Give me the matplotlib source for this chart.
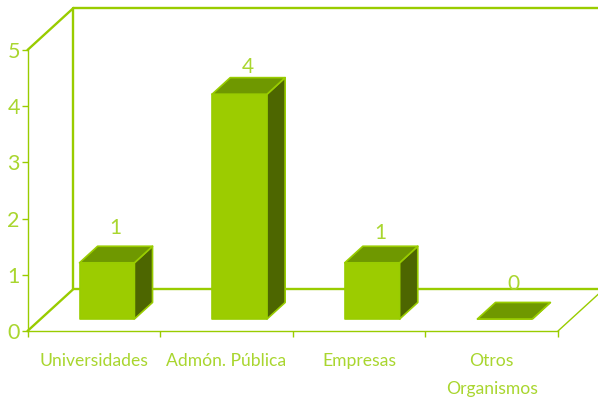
import matplotlib
matplotlib.use('Agg')
import matplotlib.pyplot as plt
from matplotlib.patches import Polygon

categories = ['Universidades', 'Admón. Pública', 'Empresas', 'Otros\nOrganismos']
values = [1, 4, 1, 0]
y_ticks = [0, 1, 2, 3, 4, 5]

line_col = '#99cc00'
text_col = '#a9d62f'
front_col = '#9ccc00'
top_col = '#6f9800'
side_col = '#4d6600'

W, H = 598, 408
plt.rcParams['font.family'] = ['Lato', 'DejaVu Sans']

fig = plt.figure(figsize=(W / 100, H / 100), dpi=100)
# plot box in pixels: x 27.5-558, y 50-331
ax = fig.add_axes([27.5 / W, (H - 331) / H, (558 - 27.5) / W, (331 - 50) / H])
ax.set_xlim(0, len(categories))
ax.set_ylim(0, 5)
ax.patch.set_alpha(0)

# oblique depth: z=1 is the back wall
dx = 46 / 132.7
dy = 42 / 56.2


def proj(x, y, z):
    return x + z * dx, y + z * dy


def wall_line(pts, lw=1.7):
    xs, ys = zip(*[proj(*p) for p in pts])
    ax.plot(xs, ys, color=line_col, lw=lw, clip_on=False, solid_capstyle='round', zorder=1)


n = len(categories)
wall_line([(0, 0, 0), (0, 0, 1), (n, 0, 1)])
wall_line([(0, 0, 1), (0, 5, 1), (n, 5, 1)])
wall_line([(0, 5, 0), (0, 5, 1)])
wall_line([(n, 0, 0), (n, 0, 1)], lw=1.0)

z0, z1 = 0.286, 0.68
half = 0.207
# the value labels do not sit at one fixed height in the original
label_gap = [6, 0.5, 2, 6]
for i, v in enumerate(values):
    c = i + 0.5
    l, r = c - half, c + half
    faces = [
        ([(l, 0, z0), (r, 0, z0), (r, v, z0), (l, v, z0)], front_col),
        ([(r, 0, z0), (r, 0, z1), (r, v, z1), (r, v, z0)], side_col),
        ([(l, v, z0), (r, v, z0), (r, v, z1), (l, v, z1)], top_col),
    ]
    for pts, col in faces:
        ax.add_patch(Polygon([proj(*p) for p in pts], closed=True, facecolor=col,
                             edgecolor=line_col, lw=1.2, joinstyle='round',
                             clip_on=False, zorder=3))
    tx, ty = proj(c, v, z1)
    ax.annotate(str(v), (tx, ty), xytext=(-7, label_gap[i]), textcoords='offset points', ha='center',
                va='bottom', color=text_col, fontsize=15, zorder=4, annotation_clip=False)

for s in ['top', 'right']:
    ax.spines[s].set_visible(False)
for s in ['left', 'bottom']:
    ax.spines[s].set_color(line_col)
    ax.spines[s].set_linewidth(1.0)

ax.set_yticks(y_ticks)
ax.set_xticks(range(n + 1))
ax.set_xticklabels([])
ax.set_xticks([i + 0.5 for i in range(n)], categories, minor=True)
ax.tick_params(axis='x', which='major', length=4.5, width=1, color=line_col)
ax.tick_params(axis='x', which='minor', length=0, pad=15.5, labelsize=12.6, labelcolor=text_col)
ax.tick_params(axis='y', length=4, width=1, color=line_col, pad=1.5, labelsize=15.5, labelcolor=text_col)
for lab in ax.get_xticklabels(minor=True):
    lab.set_linespacing(1.95)

fig.savefig('out.png', dpi=100)
